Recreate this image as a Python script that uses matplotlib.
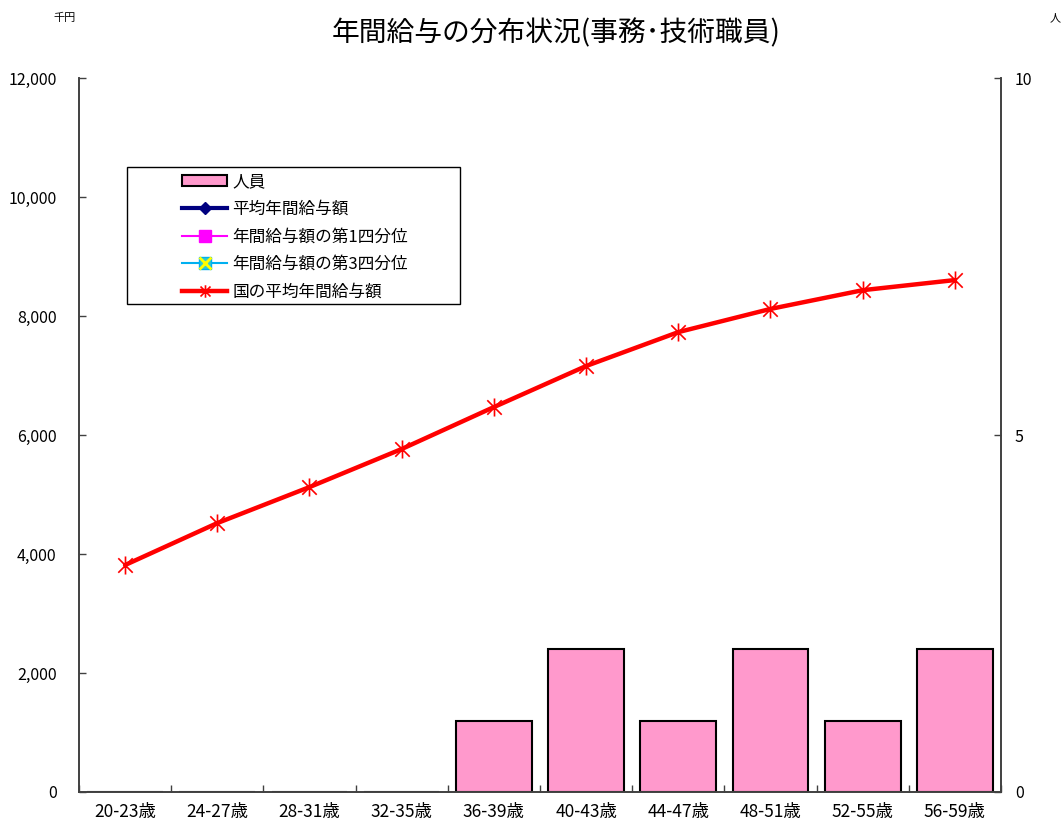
import matplotlib
matplotlib.use("Agg")
import matplotlib.pyplot as plt
from matplotlib.lines import Line2D
from matplotlib.patches import Patch, Rectangle
from matplotlib.path import Path
from matplotlib.ticker import FuncFormatter

plt.rcParams['font.family'] = ['Noto Sans CJK JP', 'DejaVu Sans']

categories = ["20-23歳", "24-27歳", "28-31歳", "32-35歳", "36-39歳",
              "40-43歳", "44-47歳", "48-51歳", "52-55歳", "56-59歳"]
staff = [0, 0, 0, 0, 1, 2, 1, 2, 1, 2]
national_avg = [3815, 4520, 5125, 5765, 6470, 7160, 7730, 8120, 8435, 8605]
left_ticks = [0, 2000, 4000, 6000, 8000, 10000, 12000]
right_ticks = [0, 5, 10]

title = "年間給与の分布状況(事務･技術職員)"
legend_labels = ["人員", "平均年間給与額", "年間給与額の第1四分位",
                 "年間給与額の第3四分位", "国の平均年間給与額"]

fig = plt.figure(figsize=(10.64, 8.22), dpi=100)
ax1 = fig.add_axes([0.0742, 0.0365, 0.8666, 0.8685])
ax2 = ax1.twinx()
ax1.set_zorder(ax2.get_zorder() + 1)
ax1.patch.set_visible(False)

x = list(range(len(categories)))
ax2.bar(x, staff, width=0.82, color="#FF99CC", edgecolor="black", linewidth=1.5)

# asterisk marker: x plus vertical bar
ast = Path([(-1, -1), (1, 1), (-1, 1), (1, -1), (0, -1.25), (0, 1.25)],
           [Path.MOVETO, Path.LINETO, Path.MOVETO, Path.LINETO, Path.MOVETO, Path.LINETO])
ax1.plot(x, national_avg, color="#FF0000", linewidth=3.2, marker=ast,
         markersize=13, markeredgewidth=1.2, markeredgecolor="#FF0000",
         markerfacecolor="none", solid_capstyle="round", zorder=3)

ax1.set_xlim(-0.5, len(categories) - 0.5)
ax1.set_ylim(0, 12000)
ax2.set_ylim(0, 10)
ax1.set_yticks(left_ticks)
ax1.yaxis.set_major_formatter(FuncFormatter(lambda v, p: f"{int(v):,}"))
ax2.set_yticks(right_ticks)

ax1.set_xticks(x)
ax1.set_xticklabels(categories)
ax1.set_xticks([i - 0.5 for i in range(len(categories) + 1)], minor=True)
ax1.tick_params(axis='x', which='major', length=0, pad=8, labelsize=12.5)
ax1.tick_params(axis='x', which='minor', direction='in', length=5, width=1, color='#404040')
ax1.tick_params(axis='y', direction='in', length=5, width=1, color='#404040', labelsize=11.5, pad=16)
ax2.tick_params(axis='y', direction='in', length=5, width=1, color='#404040', labelsize=11.5, pad=10)

for a in (ax1, ax2):
    a.spines['top'].set_visible(False)
    for s in ('left', 'right', 'bottom'):
        a.spines[s].set_color('#404040')
        a.spines[s].set_linewidth(1.2)

fig.text(0.523, 0.959, title, ha='center', va='center', fontsize=20)
fig.text(0.061, 0.978, "千円", ha='center', va='center', fontsize=8)
fig.text(0.9915, 0.978, "人", ha='center', va='center', fontsize=8)

h_bar = Patch(facecolor="#FF99CC", edgecolor="black", linewidth=1.5)
h_avg = Line2D([], [], color="#000080", linewidth=3, marker="D", markersize=6,
               markerfacecolor="#000080", markeredgecolor="#000080")
h_q1 = Line2D([], [], color="#FF00FF", linewidth=1.5, marker="s", markersize=9,
              markerfacecolor="#FF00FF", markeredgecolor="#FF00FF")
h_q3a = Line2D([], [], color="#00B0F0", linewidth=1.5, marker="s", markersize=9,
               markerfacecolor="#33CCCC", markeredgecolor="#00B0F0")
h_q3b = Line2D([], [], linestyle="none", marker="x", markersize=8,
               markeredgecolor="#FFFF00", markeredgewidth=2)
h_nat = Line2D([], [], color="#FF0000", linewidth=3.2, marker=ast, markersize=9,
               markeredgewidth=1.2, markeredgecolor="#FF0000")

# legend frame drawn separately (wide left margin as in reference)
frame = Rectangle((0.052, 0.683), 0.361, 0.192, transform=ax1.transAxes,
                  facecolor="white", edgecolor="black", linewidth=1.0, zorder=4)
ax1.add_patch(frame)

leg = ax1.legend([h_bar, h_avg, h_q1, (h_q3a, h_q3b), h_nat], legend_labels,
                 loc='upper left', bbox_to_anchor=(0.1123, 0.8664), frameon=False,
                 fontsize=12, handlelength=2.7, handletextpad=0.3,
                 labelspacing=0.63, borderpad=0, borderaxespad=0)
leg.set_zorder(5)

fig.savefig("out.png", dpi=100)
